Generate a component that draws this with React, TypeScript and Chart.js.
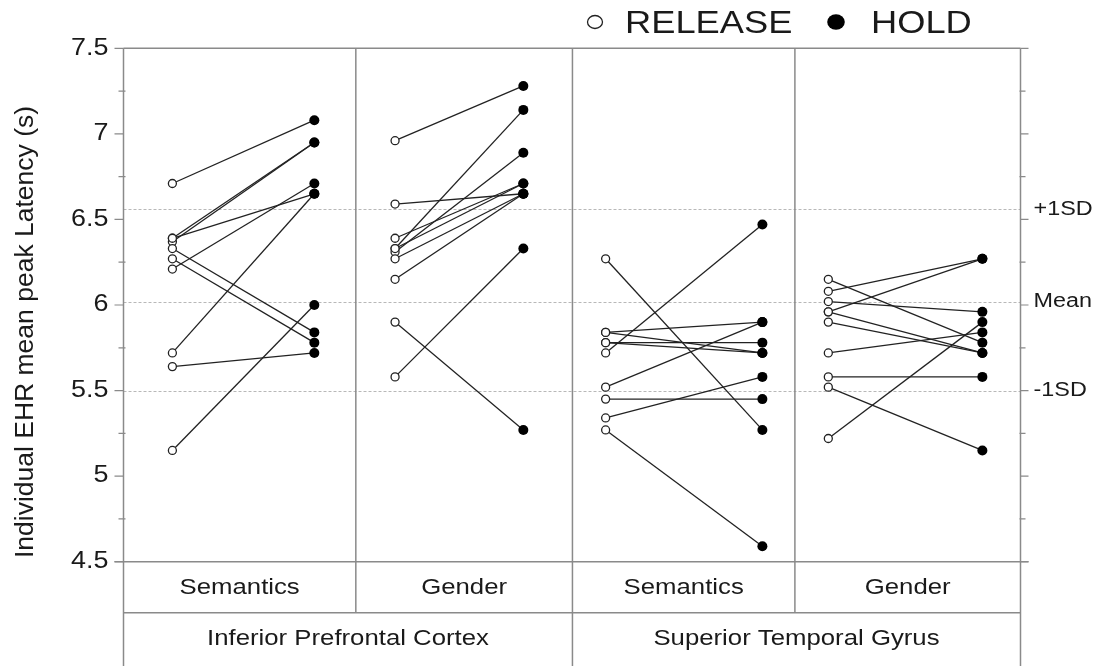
import { useEffect, useRef } from "react";
import { Chart, registerables } from "chart.js";
Chart.register(...registerables);

const regions = ["Inferior Prefrontal Cortex", "Superior Temporal Gyrus"];
const tasks = ["Semantics", "Gender", "Semantics", "Gender"];
const panelEdges = [0, 1.036, 2.002, 2.994, 4];
const releaseX = [0.218, 1.211, 2.15, 3.143];
const holdX = [0.851, 1.783, 2.849, 3.83];

const ipcSemRelease = [6.71, 6.39, 6.37, 6.39, 6.21, 6.33, 6.27, 5.72, 5.64, 5.15];
const ipcSemHold = [7.08, 6.95, 6.95, 6.65, 6.71, 5.84, 5.78, 6.65, 5.72, 6.0];
const ipcGenRelease = [6.96, 6.59, 6.39, 6.33, 6.31, 6.27, 6.15, 5.9, 5.58, 6.33];
const ipcGenHold = [7.28, 6.65, 6.71, 7.14, 6.89, 6.65, 6.65, 5.27, 6.33, 6.71];
const stgSemRelease = [6.27, 5.84, 5.84, 5.78, 5.78, 5.72, 5.52, 5.45, 5.34, 5.27];
const stgSemHold = [5.27, 5.9, 5.72, 5.78, 5.72, 6.47, 5.9, 5.45, 5.58, 4.59];
const stgGenRelease = [6.15, 6.08, 5.96, 6.02, 5.96, 5.9, 5.72, 5.58, 5.52, 5.22];
const stgGenHold = [5.78, 6.27, 6.27, 5.96, 5.72, 5.72, 5.84, 5.58, 5.15, 5.9];

const releaseSets = [ipcSemRelease, ipcGenRelease, stgSemRelease, stgGenRelease];
const holdSets = [ipcSemHold, ipcGenHold, stgSemHold, stgGenHold];

const yMin = 4.5;
const yMax = 7.5;
const yTicksMajor = [4.5, 5, 5.5, 6, 6.5, 7, 7.5];
const yTickLabels = ["4.5", "5", "5.5", "6", "6.5", "7", "7.5"];
const yTicksMinor = [4.75, 5.25, 5.75, 6.25, 6.75, 7.25];
const refValues = [6.56, 6.02, 5.5];
const refLabels = ["+1SD", "Mean", "-1SD"];
const legendLabels = ["RELEASE", "HOLD"];
const yTitle = "Individual EHR mean peak Latency (s)";

const FONT = '"Liberation Sans", Arial, sans-serif';
const TEXT = "#1a1a1a";
const FRAME = "#8a8a8a";
const SX = 1.17;

function txt(ctx: CanvasRenderingContext2D, s: string, x: number, y: number, size: number, align: CanvasTextAlign, sx = SX) {
  ctx.save();
  ctx.translate(x, y);
  ctx.scale(sx, 1);
  ctx.font = `${size}px ${FONT}`;
  ctx.fillStyle = TEXT;
  ctx.textAlign = align;
  ctx.textBaseline = "middle";
  ctx.fillText(s, 0, 0);
  ctx.restore();
}

const decor = {
  id: "decor",
  beforeDatasetsDraw(chart: any) {
    const ctx: CanvasRenderingContext2D = chart.ctx;
    const xs = chart.scales.x;
    const ys = chart.scales.y;
    const { left, right, top, bottom } = chart.chartArea;
    const H = chart.height;
    const catBottom = bottom + 51;
    ctx.save();
    ctx.strokeStyle = "#b8b8b8";
    ctx.lineWidth = 1;
    ctx.setLineDash([3, 2]);
    refValues.forEach((v) => {
      const y = Math.round(ys.getPixelForValue(v)) + 0.5;
      ctx.beginPath();
      ctx.moveTo(left, y);
      ctx.lineTo(right, y);
      ctx.stroke();
    });
    ctx.setLineDash([]);
    ctx.strokeStyle = FRAME;
    ctx.lineWidth = 1.5;
    ctx.beginPath();
    ctx.moveTo(left, top);
    ctx.lineTo(right, top);
    ctx.stroke();
    ctx.beginPath();
    ctx.moveTo(left - 9, bottom);
    ctx.lineTo(right + 8, bottom);
    ctx.stroke();
    ctx.beginPath();
    ctx.moveTo(left, catBottom);
    ctx.lineTo(right, catBottom);
    ctx.stroke();
    [left, right].forEach((x) => {
      ctx.beginPath();
      ctx.moveTo(x, top);
      ctx.lineTo(x, H);
      ctx.stroke();
    });
    panelEdges.slice(1, -1).forEach((e, i) => {
      const x = xs.getPixelForValue(e);
      ctx.beginPath();
      ctx.moveTo(x, top);
      ctx.lineTo(x, i === 1 ? H : catBottom);
      ctx.stroke();
    });
    ctx.lineWidth = 1.2;
    yTicksMajor.forEach((v) => {
      const y = ys.getPixelForValue(v);
      ctx.beginPath();
      ctx.moveTo(left - 9, y);
      ctx.lineTo(left, y);
      ctx.moveTo(right, y);
      ctx.lineTo(right + 8, y);
      ctx.stroke();
    });
    yTicksMinor.forEach((v) => {
      const y = ys.getPixelForValue(v);
      ctx.beginPath();
      ctx.moveTo(left - 5, y);
      ctx.lineTo(left + 2, y);
      ctx.moveTo(right - 1, y);
      ctx.lineTo(right + 5, y);
      ctx.stroke();
    });
    ctx.restore();

    yTicksMajor.forEach((v, i) => {
      txt(ctx, yTickLabels[i], left - 15, ys.getPixelForValue(v), 23, "right");
    });
    refValues.forEach((v, i) => {
      txt(ctx, refLabels[i], right + 13, ys.getPixelForValue(v), 20, "left");
    });
    tasks.forEach((t, i) => {
      const cx = (xs.getPixelForValue(panelEdges[i]) + xs.getPixelForValue(panelEdges[i + 1])) / 2;
      txt(ctx, t, cx, bottom + 26, 22, "center");
    });
    regions.forEach((r, i) => {
      const cx = (xs.getPixelForValue(panelEdges[i * 2]) + xs.getPixelForValue(panelEdges[i * 2 + 2])) / 2;
      txt(ctx, r, cx, catBottom + 26, 22, "center");
    });
    ctx.save();
    ctx.translate(26, (top + bottom) / 2 + 27);
    ctx.rotate(-Math.PI / 2);
    ctx.font = `26.5px ${FONT}`;
    ctx.fillStyle = TEXT;
    ctx.textAlign = "center";
    ctx.textBaseline = "middle";
    ctx.fillText(yTitle, 0, 0);
    ctx.restore();
    ctx.save();
    ctx.strokeStyle = "#222";
    ctx.lineWidth = 1.3;
    ctx.fillStyle = "#fff";
    ctx.beginPath();
    ctx.ellipse(595, 22, 7.5, 6.5, 0, 0, Math.PI * 2);
    ctx.fill();
    ctx.stroke();
    ctx.fillStyle = "#000";
    ctx.beginPath();
    ctx.ellipse(836, 22, 8.8, 7.8, 0, 0, Math.PI * 2);
    ctx.fill();
    ctx.restore();
    txt(ctx, legendLabels[0], 625, 24, 31, "left");
    txt(ctx, legendLabels[1], 871, 24, 31, "left");
  },
};

export default function App() {
  const ref = useRef<HTMLCanvasElement | null>(null);
  useEffect(() => {
    if (!ref.current) return;
    const datasets: any[] = [];
    const relPts: any[] = [];
    const holdPts: any[] = [];
    releaseSets.forEach((rel, p) => {
      rel.forEach((r, k) => {
        const h = holdSets[p][k];
        datasets.push({
          type: "line",
          data: [
            { x: releaseX[p], y: r },
            { x: holdX[p], y: h },
          ],
          borderColor: "#222",
          borderWidth: 1.3,
          pointRadius: 0,
          order: 3,
        });
        relPts.push({ x: releaseX[p], y: r });
        holdPts.push({ x: holdX[p], y: h });
      });
    });
    datasets.push({
      type: "scatter",
      data: relPts,
      pointRadius: 4,
      pointBackgroundColor: "#fff",
      pointBorderColor: "#222",
      pointBorderWidth: 1.3,
      order: 2,
    });
    datasets.push({
      type: "scatter",
      data: holdPts,
      pointRadius: 5,
      pointBackgroundColor: "#000",
      pointBorderColor: "#000",
      pointBorderWidth: 0,
      order: 1,
    });
    const chart = new Chart(ref.current, {
      type: "scatter",
      data: { datasets },
      options: {
        animation: false,
        responsive: false,
        maintainAspectRatio: false,
        layout: { padding: { left: 123.5, right: 75.5, top: 48.3, bottom: 104.3 } },
        plugins: { legend: { display: false }, tooltip: { enabled: false } },
        scales: {
          x: { type: "linear", min: 0, max: 4, display: false },
          y: { type: "linear", min: yMin, max: yMax, display: false },
        },
      },
      plugins: [decor],
    } as any);
    return () => chart.destroy();
  }, []);
  return (
    <div style={{ position: "fixed", left: 0, top: 0, width: 1096, height: 666, background: "#fff" }}>
      <canvas ref={ref} width={1096} height={666} />
    </div>
  );
}
